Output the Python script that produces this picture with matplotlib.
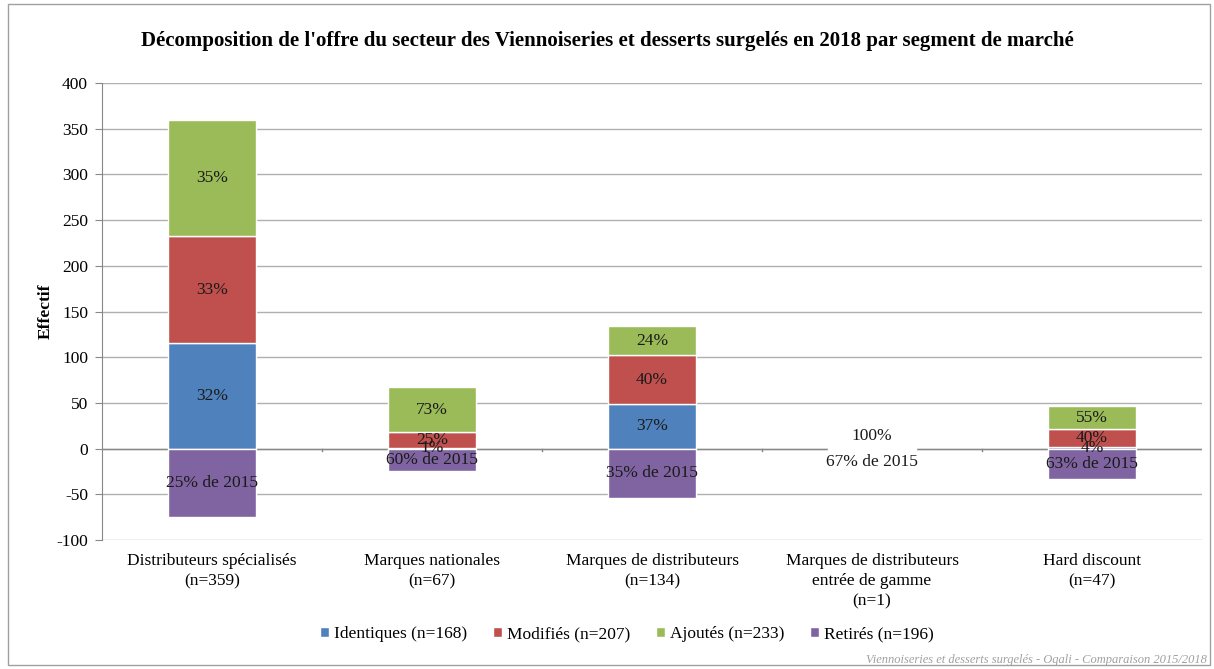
import matplotlib
matplotlib.use("Agg")
import matplotlib.pyplot as plt
from matplotlib.patches import Rectangle
import numpy as np

categories = ["Distributeurs spécialisés\n(n=359)", "Marques nationales\n(n=67)",
              "Marques de distributeurs\n(n=134)", "Marques de distributeurs\nentrée de gamme\n(n=1)",
              "Hard discount\n(n=47)"]
identiques = [115, 1, 49, 1, 2]
modifies = [118, 17, 53, 0, 19]
ajoutes = [126, 49, 32, 0, 26]
retires = [-75, -25, -54, -2, -33]

lab_identiques = ["32%", "1%", "37%", "100%", "4%"]
lab_modifies = ["33%", "25%", "40%", "", "40%"]
lab_ajoutes = ["35%", "73%", "24%", "", "55%"]
lab_retires = ["25% de 2015", "60% de 2015", "35% de 2015", "67% de 2015", "63% de 2015"]

series_names = ["Identiques (n=168)", "Modifiés (n=207)", "Ajoutés (n=233)", "Retirés (n=196)"]
colors = ["#4F81BD", "#C0504D", "#9BBB59", "#8064A2"]

yticks = list(range(-100, 401, 50))

plt.rcParams['font.family'] = ['Liberation Serif', 'DejaVu Serif']

fig = plt.figure(figsize=(12.14, 6.69), dpi=100)
ax = fig.add_axes([102/1214, 1-540/669, 1100/1214, 457/669])

x = np.arange(len(categories))
w = 0.4
ident = np.array(identiques); mod = np.array(modifies); aj = np.array(ajoutes); ret = np.array(retires)

b1 = ax.bar(x, ident, w, color=colors[0], edgecolor='white', linewidth=1, zorder=3, label=series_names[0])
b2 = ax.bar(x, mod, w, bottom=ident, color=colors[1], edgecolor='white', linewidth=1, zorder=3, label=series_names[1])
b3 = ax.bar(x, aj, w, bottom=ident+mod, color=colors[2], edgecolor='white', linewidth=1, zorder=3, label=series_names[2])
b4 = ax.bar(x, ret, w, color=colors[3], edgecolor='white', linewidth=1, zorder=3, label=series_names[3])

fs = 12.5
def put(vals, bottoms, labels, nudges):
    for i, (v, b, l) in enumerate(zip(vals, bottoms, labels)):
        if not l:
            continue
        ax.annotate(l, (x[i], b + v/2), xytext=(0, nudges[i]), textcoords='offset points',
                    ha='center', va='center', fontsize=fs, color='#1a1a1a', zorder=5)

put(ident, np.zeros(5), lab_identiques, [0, 0, 0, 9, 0])
put(mod, ident, lab_modifies, [0, 0, 0, 0, 0])
put(aj, ident+mod, lab_ajoutes, [0, 0, 0, 0, 0])
put(ret, np.zeros(5), lab_retires, [0, 0, 0, -9, 0])

ax.set_xlim(-0.5, len(categories)-0.5)
ax.set_ylim(-100, 400)
ax.set_yticks(yticks)
ax.set_yticklabels([str(t) for t in yticks])
ax.tick_params(axis='y', length=5, color='#888888', pad=5, labelsize=12.5)
ax.grid(axis='y', color='#b0b0b0', linewidth=1, zorder=0)
ax.set_xticks([])
for s in ['top', 'right', 'bottom']:
    ax.spines[s].set_visible(False)
ax.spines['left'].set_color('#888888')
ax.axhline(0, color='#888888', linewidth=1, zorder=2)
for b in np.arange(0.5, len(categories)-0.5, 1.0):
    ax.plot([b, b], [0, -3], color='#888888', linewidth=1, zorder=2, clip_on=False)

for i, c in enumerate(categories):
    ax.text(x[i], -114, c, ha='center', va='top', fontsize=12.5, linespacing=1.35)

ax.set_ylabel("Effectif", fontsize=12.5, fontweight='bold', labelpad=2)

fig.text(0.5, 1-41/669, "Décomposition de l'offre du secteur des Viennoiseries et desserts surgelés en 2018 par segment de marché",
         ha='center', va='center', fontsize=15, fontweight='bold')

handles = [b1, b2, b3, b4]
fig.legend(handles, series_names, loc='center', bbox_to_anchor=(627/1214, 1-634/669), ncol=4,
           frameon=False, prop={'family': 'Liberation Serif', 'size': 12.5},
           handlelength=0.5, handleheight=0.5, handletextpad=0.3, columnspacing=1.5)

fig.text(1207/1214, 1-660/669, "Viennoiseries et desserts surgelés - Oqali - Comparaison 2015/2018",
         ha='right', va='center', fontsize=9, style='italic', color='#a0a0a0')

fig.patches.append(Rectangle((8/1214, 4/669), 1202/1214, 661/669, transform=fig.transFigure,
                             fill=False, edgecolor='#a0a0a0', linewidth=1))

fig.savefig("out.png", dpi=100)
